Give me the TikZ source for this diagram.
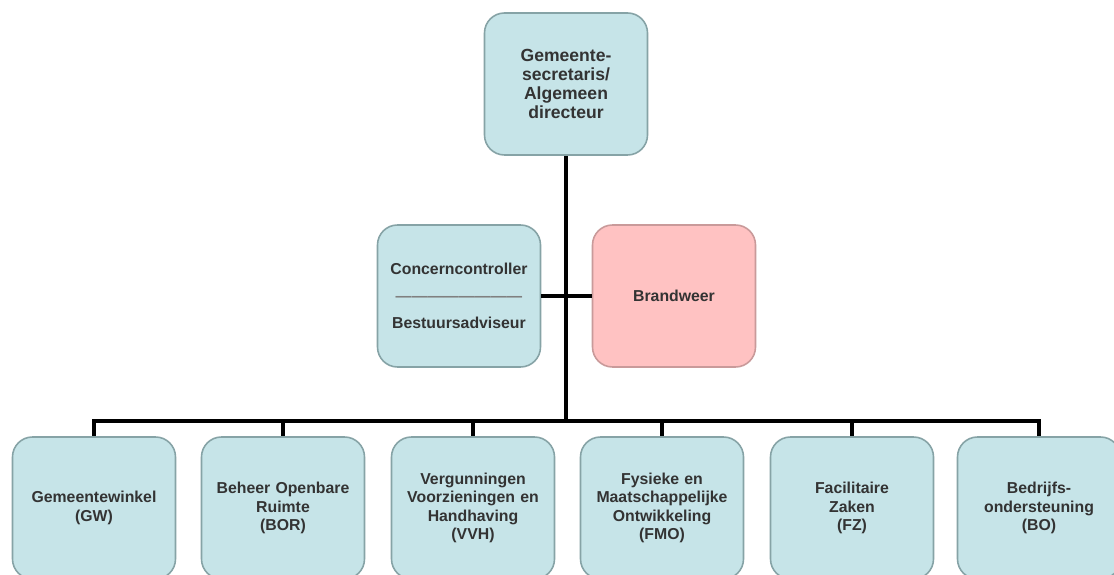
\documentclass[tikz,border=0pt]{standalone}
\usepackage{fontspec}
\setmainfont{Liberation Sans}
\usepackage{xcolor}
\usetikzlibrary{positioning}

\definecolor{boxblue}{HTML}{C6E4E8}
\definecolor{boxblueline}{HTML}{86A3A6}
\definecolor{boxpink}{HTML}{FFC2C2}
\definecolor{boxpinkline}{HTML}{C99A9A}
\definecolor{txt}{HTML}{333333}

\begin{document}
\begin{tikzpicture}[
  font=\bfseries\fontsize{9}{10.4}\selectfont,
  unit/.style={draw=boxblueline, fill=boxblue, line width=0.9pt, rounded corners=0.4cm, align=center, text=txt, minimum width=3.26cm, minimum height=2.84cm, text width=3.0cm, inner sep=2pt},
  fire/.style={unit, draw=boxpinkline, fill=boxpink},
  conn/.style={line width=2pt, black}
]
\useasboundingbox[fill=white] (0,0) rectangle (22.28,-11.5);

\node[unit, font=\bfseries\fontsize{10}{10.8}\selectfont] (gs) at (11.32,-1.68) {Gemeente-\\secretaris/\\Algemeen\\directeur};

\node[unit] (cc) at (9.18,-5.92) {Concerncontroller\\[5pt]{\color{gray}\textemdash\textemdash\textemdash\textemdash\textemdash\textemdash\textemdash\textemdash}\\[5pt]Bestuursadviseur};
\node[fire] (bw) at (13.48,-5.92) {Brandweer};

\node[unit] (gw) at (1.88,-10.16) {Gemeentewinkel\\(GW)};
\node[unit] (bor) at (5.66,-10.16) {Beheer Openbare\\Ruimte\\(BOR)};
\node[unit] (vvh) at (9.46,-10.16) {Vergunningen\\Voorzieningen en\\Handhaving\\(VVH)};
\node[unit] (fmo) at (13.24,-10.16) {Fysieke en\\Maatschappelijke\\Ontwikkeling\\(FMO)};
\node[unit] (fz) at (17.04,-10.16) {Facilitaire\\Zaken\\(FZ)};
\node[unit] (bo) at (20.78,-10.16) {Bedrijfs-\\ondersteuning\\(BO)};

\coordinate (bus) at (11.32,-8.42);
\draw[conn] (gs.south) -- (bus);
\draw[conn] (cc.east) -- (bw.west);
\foreach \n in {gw,bor,vvh,fmo,fz,bo}
  \draw[conn] (bus) -| (\n.north);
\end{tikzpicture}
\end{document}
